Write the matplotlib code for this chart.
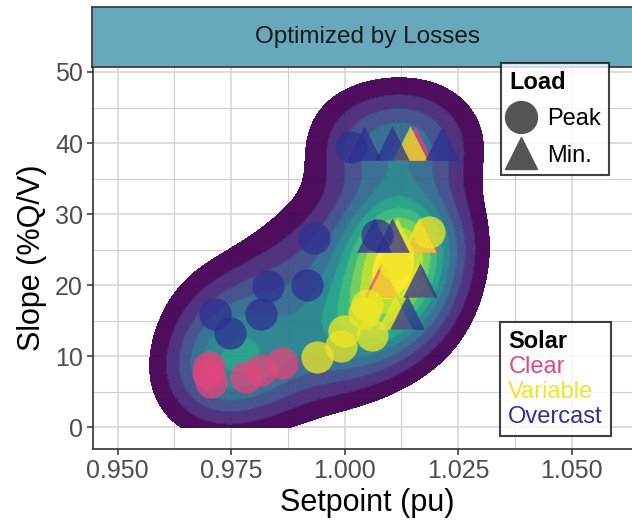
import numpy as np
import matplotlib
matplotlib.use("Agg")
import matplotlib.pyplot as plt
from matplotlib.lines import Line2D

plt.rcParams["font.family"] = ["Liberation Sans", "DejaVu Sans"]

# Optimal setpoint / slope per case, split by solar profile and load level
clear_peak_x = [0.9702, 0.9706, 0.9700, 0.9783, 0.9816, 0.9863]
clear_peak_y = [8.5, 6.4, 7.6, 7.1, 8.1, 9.0]
clear_min_x = [1.0155, 1.0170, 1.0079]
clear_min_y = [40.0, 27.1, 20.7]

variable_peak_x = [0.9938, 0.9993, 0.9998, 1.0042, 1.0061, 1.0049, 1.0185, 1.0110]
variable_peak_y = [9.9, 11.4, 13.5, 16.1, 13.0, 17.2, 27.5, 23.0]
variable_min_x = [1.0144, 1.0115, 1.0163, 1.0086, 1.0159, 1.0112]
variable_min_y = [40.0, 27.1, 27.1, 20.7, 20.7, 16.2]

overcast_peak_x = [0.9932, 0.9832, 0.9916, 0.9715, 0.9816, 0.9748, 1.0013, 1.0071]
overcast_peak_y = [26.6, 19.9, 20.0, 15.9, 15.9, 13.2, 39.5, 27.0]
overcast_min_x = [1.0042, 1.0104, 1.0214, 1.0064, 1.0104, 1.0166, 1.0137]
overcast_min_y = [40.0, 40.0, 40.0, 27.1, 27.1, 20.7, 16.2]

solar_names = ["Clear", "Variable", "Overcast"]
solar_colors = ["#E2457D", "#F0E626", "#2E3190"]
load_names = ["Peak", "Min."]

x_ticks = [0.950, 0.975, 1.000, 1.025, 1.050]
y_ticks = [0, 10, 20, 30, 40, 50]

series = [
    ("Clear", "Peak", clear_peak_x, clear_peak_y),
    ("Clear", "Min.", clear_min_x, clear_min_y),
    ("Variable", "Peak", variable_peak_x, variable_peak_y),
    ("Variable", "Min.", variable_min_x, variable_min_y),
    ("Overcast", "Peak", overcast_peak_x, overcast_peak_y),
    ("Overcast", "Min.", overcast_min_x, overcast_min_y),
]

all_x = np.concatenate([np.array(s[2]) for s in series])
all_y = np.concatenate([np.array(s[3]) for s in series])


def bandwidth_nrd(v):
    q75, q25 = np.percentile(v, [75, 25])
    return 4 * 1.06 * min(np.std(v, ddof=1), (q75 - q25) / 1.34) * len(v) ** (-0.2)


# 2D kernel density, same recipe as MASS::kde2d
hx = bandwidth_nrd(all_x) / 4
hy = bandwidth_nrd(all_y) / 4
gx = np.linspace(0.95, 1.06, 300)
gy = np.linspace(0, 50, 300)
GX, GY = np.meshgrid(gx, gy)
Z = np.zeros_like(GX)
for px, py in zip(all_x, all_y):
    Z += np.exp(-0.5 * ((GX - px) / hx) ** 2 - 0.5 * ((GY - py) / hy) ** 2)
Z /= len(all_x) * 2 * np.pi * hx * hy

levels = np.linspace(0, Z.max(), 12)[1:]
viridis10 = ["#440154", "#482878", "#3E4A89", "#31688E", "#26828E",
             "#1F9E89", "#35B779", "#6DCD59", "#B4DE2C", "#FDE725"]

fig = plt.figure(figsize=(6.32, 5.20), dpi=100)
ax = fig.add_axes([92.7 / 632, 1 - 449 / 520, (642 - 92.7) / 632, (449 - 67) / 520])

ax.contourf(GX, GY, Z, levels=levels, colors=viridis10, alpha=0.95, zorder=2)

markers = {"Peak": "o", "Min.": "^"}
sizes = {"Peak": 540, "Min.": 620}
for solar, load, xs, ys in series:
    ax.scatter(xs, ys, s=sizes[load], marker=markers[load],
               color=solar_colors[solar_names.index(solar)],
               alpha=0.75, linewidths=0, zorder=3)

ax.set_xticks(x_ticks)
ax.set_xticklabels([f"{v:.3f}" for v in x_ticks])
ax.set_yticks(y_ticks)
ax.set_xticks(np.arange(0.9625, 1.06, 0.025), minor=True)
ax.set_yticks(np.arange(5, 50, 10), minor=True)
ax.set_xlim(0.9445, 1.0655)
ax.set_ylim(-3.06, 50.7)
ax.grid(which="major", color="#DADADA", linewidth=1.3, zorder=0)
ax.grid(which="minor", color="#D0D0D0", linewidth=0.8, zorder=0)
ax.set_axisbelow(True)
ax.tick_params(which="major", length=4, width=1.1, color="#333333",
               labelsize=18, labelcolor="#4D4D4D", pad=3)
ax.tick_params(which="minor", length=0)
for side in ["top", "right"]:
    ax.spines[side].set_visible(False)
for side in ["left", "bottom"]:
    ax.spines[side].set_color("#333333")
    ax.spines[side].set_linewidth(1.2)

ax.set_xlabel("Setpoint (pu)", fontsize=22, labelpad=4)
ax.set_ylabel("Slope (%Q/V)", fontsize=22, labelpad=6)

# facet strip
strip = fig.add_axes([92 / 632, 1 - 66.5 / 520, (650 - 92) / 632, 59.5 / 520])
strip.set_facecolor("#67A8BD")
strip.set_xticks([])
strip.set_yticks([])
for sp in strip.spines.values():
    sp.set_color("#333333")
    sp.set_linewidth(1.2)
strip.text((367 - 92) / (650 - 92), 0.5, "Optimized by Losses", fontsize=17.5,
           color="#1A1A1A", ha="center", va="center", transform=strip.transAxes)

# shape legend
load_handles = [Line2D([], [], marker=markers[n], linestyle="", color="#555555",
                       markersize=23) for n in load_names]
leg1 = fig.legend(load_handles, load_names, title="Load", loc="upper left",
                  bbox_to_anchor=(501 / 632, 1 - 63 / 520), fontsize=17,
                  title_fontproperties={"weight": "bold", "size": 17},
                  frameon=True, fancybox=False, edgecolor="#111111",
                  handlelength=1.0, handletextpad=0.6, labelspacing=0.6,
                  borderpad=0.35, alignment="left", borderaxespad=0)
leg1.get_frame().set_linewidth(1.5)

# colour legend, text only
solar_handles = [Line2D([], [], linestyle="", marker=None) for _ in solar_names]
leg2 = fig.legend(solar_handles, solar_names, title="Solar", loc="upper left",
                  bbox_to_anchor=(500 / 632, 1 - 322 / 520), fontsize=17,
                  title_fontproperties={"weight": "bold", "size": 17},
                  frameon=True, fancybox=False, edgecolor="#111111",
                  handlelength=0, handletextpad=0, labelspacing=0.12,
                  borderpad=0.35, alignment="left", borderaxespad=0)
leg2.get_frame().set_linewidth(1.5)
for txt, c in zip(leg2.get_texts(), solar_colors):
    txt.set_color(c)

fig.savefig("out.png", dpi=100)
